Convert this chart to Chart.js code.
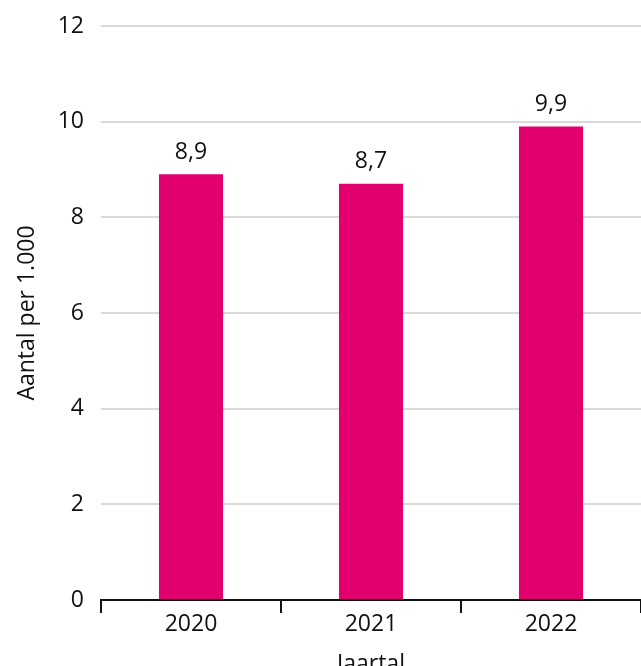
<!DOCTYPE html>
<html>
<head>
<meta charset="utf-8">
<script src="https://cdn.jsdelivr.net/npm/chart.js@4"></script>
<style>
  html, body { margin: 0; padding: 0; background: #ffffff; overflow: hidden; }
  #wrap { position: relative; width: 641px; height: 678px; }
</style>
</head>
<body>
<div id="wrap"><canvas id="c"></canvas></div>
<script>
const years = ['2020', '2021', '2022'];
const perThousand = [8.9, 8.7, 9.9];
const yTicks = [0, 2, 4, 6, 8, 10, 12];

const FONT = '"Open Sans", "Noto Sans", sans-serif';
const FONT_SIZE = 23;
const BAR_COLOR = '#E1006D';

// Writes each bar's value (Dutch decimal comma) just above it
const valueLabels = {
  id: 'valueLabels',
  afterDatasetsDraw(chart) {
    const ctx = chart.ctx;
    const meta = chart.getDatasetMeta(0);
    ctx.save();
    ctx.font = FONT_SIZE + 'px ' + FONT;
    ctx.fillStyle = '#111111';
    ctx.textAlign = 'center';
    ctx.textBaseline = 'middle';
    meta.data.forEach((bar, i) => {
      const v = chart.data.datasets[0].data[i];
      ctx.fillText(v.toFixed(1).replace('.', ','), bar.x, bar.y - 22);
    });
    ctx.restore();
  }
};

new Chart(document.getElementById('c'), {
  type: 'bar',
  data: {
    labels: years,
    datasets: [{
      data: perThousand,
      backgroundColor: BAR_COLOR,
      borderWidth: 0,
      categoryPercentage: 1,
      barPercentage: 0.356
    }]
  },
  options: {
    responsive: true,
    maintainAspectRatio: false,
    animation: false,
    layout: { padding: { top: 26, right: 0, left: 0, bottom: 0 } },
    plugins: { legend: { display: false }, tooltip: { enabled: false } },
    scales: {
      x: {
        offset: true,
        border: { display: true, color: '#111111', width: 2 },
        grid: {
          offset: true,
          drawOnChartArea: false,
          drawTicks: true,
          tickLength: 13,
          color: '#111111',
          lineWidth: 2
        },
        ticks: { color: '#111111', font: { family: FONT, size: FONT_SIZE }, padding: -2 },
        title: {
          display: true,
          text: 'Jaartal',
          color: '#111111',
          font: { family: FONT, size: FONT_SIZE },
          padding: { top: 0, bottom: 0 }
        },
        afterFit(scale) { scale.height = 78; }
      },
      y: {
        min: 0,
        max: 12,
        afterBuildTicks(scale) { scale.ticks = yTicks.map(v => ({ value: v })); },
        border: { display: false },
        grid: { color: '#d9d9d9', lineWidth: 2, drawTicks: false },
        ticks: { color: '#111111', font: { family: FONT, size: FONT_SIZE }, padding: 17 },
        title: {
          display: true,
          text: 'Aantal per 1.000',
          color: '#111111',
          font: { family: FONT, size: FONT_SIZE },
          padding: { top: 14, bottom: 0 }
        },
        afterFit(scale) {
          scale.width = 101;
          scale.paddingTop = 0;
          scale.paddingBottom = 0;
        }
      }
    }
  },
  plugins: [valueLabels]
});
</script>
</body>
</html>
